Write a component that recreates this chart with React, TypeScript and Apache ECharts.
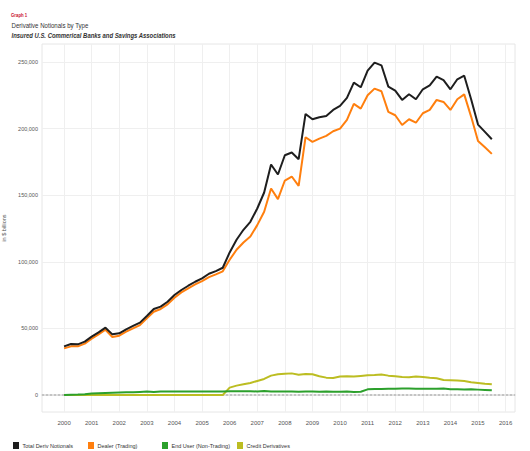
import React, { useEffect, useRef } from "react";
import * as echarts from "echarts";

const startYear = 2000;
const yearTicks = [2000, 2001, 2002, 2003, 2004, 2005, 2006, 2007, 2008, 2009, 2010, 2011, 2012, 2013, 2014, 2015, 2016];
const valueTicks = [0, 50000, 100000, 150000, 200000, 250000];

// $ billions, quarterly from 2000 Q1 (values read in thousands)
const totalDeriv = [
  36.5, 38.3, 38.0, 40.0, 43.8, 47.0, 50.5, 45.5, 46.3, 49.3, 51.8, 54.3, 59.3, 64.5, 66.3, 70.0,
  75.0, 78.8, 82.0, 85.0, 87.5, 91.0, 93.0, 95.5, 107.0, 116.5, 124.0, 130.0, 140.0, 152.0, 173.0, 165.5,
  180.0, 182.0, 177.0, 211.0, 207.0, 208.5, 209.5, 214.0, 217.0, 223.0, 234.5, 231.0, 243.5, 249.5, 247.5, 231.5,
  228.5, 221.5, 225.8, 222.0, 229.5, 232.5, 239.0, 236.3, 229.5, 237.0, 239.7, 222.0, 203.0, 197.5, 192.0,
];
const dealer = [
  35.0, 36.5, 36.5, 38.5, 42.2, 45.5, 49.0, 43.5, 44.5, 47.5, 50.0, 52.5, 57.5, 62.5, 64.5, 68.0,
  73.0, 77.0, 80.0, 83.0, 85.5, 88.5, 90.5, 92.8, 101.5, 109.0, 114.5, 119.0, 127.5, 137.5, 155.0, 147.0,
  161.0, 164.0, 157.0, 193.5, 190.0, 192.5, 194.5, 198.0, 200.0, 206.5, 218.5, 215.0, 225.0, 230.0, 228.0, 212.5,
  210.0, 202.7, 207.0, 204.4, 211.5, 214.0, 221.5, 220.0, 214.0, 222.0, 225.7, 209.0, 190.7, 186.0, 181.0,
];
const endUser = [
  0.0, 0.2, 0.3, 0.5, 1.0, 1.2, 1.4, 1.6, 1.8, 2.0, 2.1, 2.3, 2.5, 2.3, 2.6, 2.5,
  2.6, 2.5, 2.6, 2.6, 2.6, 2.6, 2.6, 2.6, 2.7, 2.8, 2.7, 2.8, 2.6, 2.9, 2.6, 2.5,
  2.6, 2.6, 2.4, 2.5, 2.5, 2.4, 2.5, 2.4, 2.4, 2.5, 2.3, 2.4, 4.2, 4.4, 4.5, 4.6,
  4.7, 4.8, 4.8, 4.6, 4.7, 4.7, 4.6, 4.8, 4.3, 4.2, 4.1, 4.2, 4.0, 3.8, 3.5,
];
const creditDeriv = [
  0, 0, 0, 0, 0, 0, 0, 0, 0, 0, 0, 0, 0, 0, 0, 0,
  0, 0, 0, 0, 0, 0, 0, 0, 5.5, 7.0, 8.0, 9.0, 10.5, 12.0, 14.5, 15.5,
  16.0, 16.2, 15.2, 15.8, 15.5, 14.0, 13.0, 12.7, 13.8, 14.0, 13.8, 14.3, 14.8, 15.0, 15.4, 14.5,
  14.0, 13.4, 13.3, 13.8, 13.5, 13.0, 12.6, 11.2, 11.0, 10.8, 10.4, 9.6, 9.0, 8.4, 8.0,
];

const seriesNames = ["Total Deriv Notionals", "Dealer (Trading)", "End User (Non-Trading)", "Credit Derivatives"];
const seriesColors = ["#1e1e1e", "#ff7f0e", "#2ca02c", "#bcbd22"];

const FONT = "'Liberation Sans', Arial, sans-serif";

const toPoints = (arr: number[]) => arr.map((v, i) => [startYear + i / 4, v * 1000]);

export default function App() {
  const ref = useRef<HTMLDivElement>(null);
  useEffect(() => {
    if (!ref.current) return;
    const chart = echarts.init(ref.current, null, { renderer: "svg" });
    const dataSets = [totalDeriv, dealer, endUser, creditDeriv];
    const order = [3, 2, 1, 0];
    const series: any[] = order.map((idx, j) => ({
      name: seriesNames[idx],
      type: "line",
      data: toPoints(dataSets[idx]),
      showSymbol: false,
      symbol: "none",
      lineStyle: { color: seriesColors[idx], width: 2 },
      itemStyle: { color: seriesColors[idx] },
      z: 3 + j,
      ...(j === 0
        ? {
            markLine: {
              silent: true,
              symbol: "none",
              label: { show: false },
              lineStyle: { color: "#c4c4c4", type: "dotted", width: 2 },
              data: [{ yAxis: 0 }],
              z: 1,
            },
          }
        : {}),
    }));
    const legendLefts = [13, 88, 162, 237];
    chart.setOption({
      animation: false,
      backgroundColor: "#ffffff",
      textStyle: { fontFamily: FONT },
      graphic: [
        {
          type: "text", x: 11, y: 12.5, scaleX: 0.78,
          style: { text: "Graph 1", fill: "#c8102e", font: `bold 5.5px ${FONT}`, align: "left", verticalAlign: "top" },
        },
        {
          type: "text", x: 11.5, y: 21, scaleX: 0.8,
          style: { text: "Derivative Notionals by Type", fill: "#333", font: `7.6px ${FONT}`, align: "left", verticalAlign: "top" },
        },
        {
          type: "text", x: 11.5, y: 31, scaleX: 0.78,
          style: { text: "Insured U.S. Commerical Banks and Savings Associations", fill: "#333", font: `italic bold 7.6px ${FONT}`, align: "left", verticalAlign: "top" },
        },
      ],
      legend: seriesNames.map((n, i) => ({
        data: [n],
        left: legendLefts[i],
        top: 442,
        icon: "rect",
        itemWidth: 6,
        itemHeight: 7,
        itemGap: 4,
        selectedMode: false,
        padding: 0,
        textStyle: { fontSize: 5.5, color: "#333", fontFamily: FONT, padding: [0, 0, 0, -1.5] },
      })),
      grid: {
        left: 42, right: 15, top: 44, bottom: 39,
        containLabel: false,
        outerBoundsMode: "none",
        show: true, borderColor: "#e6e6e6", borderWidth: 1,
      },
      xAxis: {
        type: "value",
        min: 1999.2,
        max: 2016.34,
        axisLine: { show: true, lineStyle: { color: "#dcdcdc", width: 1.5 } },
        axisTick: { show: false, customValues: yearTicks },
        axisLabel: { customValues: yearTicks, fontSize: 6, color: "#555", margin: 8, fontFamily: FONT, formatter: (v: number) => String(v) },
        splitLine: { show: true, lineStyle: { color: "#efefef", width: 1 } },
      },
      yAxis: {
        type: "value",
        min: -12800,
        max: 263500,
        name: "in $ billions",
        nameLocation: "middle",
        nameGap: 25,
        nameTextStyle: { fontSize: 5.5, color: "#555", fontFamily: FONT },
        axisLine: { show: false },
        axisTick: { show: false, customValues: valueTicks },
        axisLabel: {
          customValues: valueTicks,
          fontSize: 5.5,
          color: "#555",
          margin: 4,
          fontFamily: FONT,
          formatter: (v: number) => v.toLocaleString("en-US"),
        },
        splitLine: { show: true, lineStyle: { color: "#efefef", width: 1 } },
      },
      series,
    });
    return () => chart.dispose();
  }, []);
  return <div ref={ref} style={{ position: "absolute", left: 0, top: 0, width: 530, height: 451 }} />;
}
